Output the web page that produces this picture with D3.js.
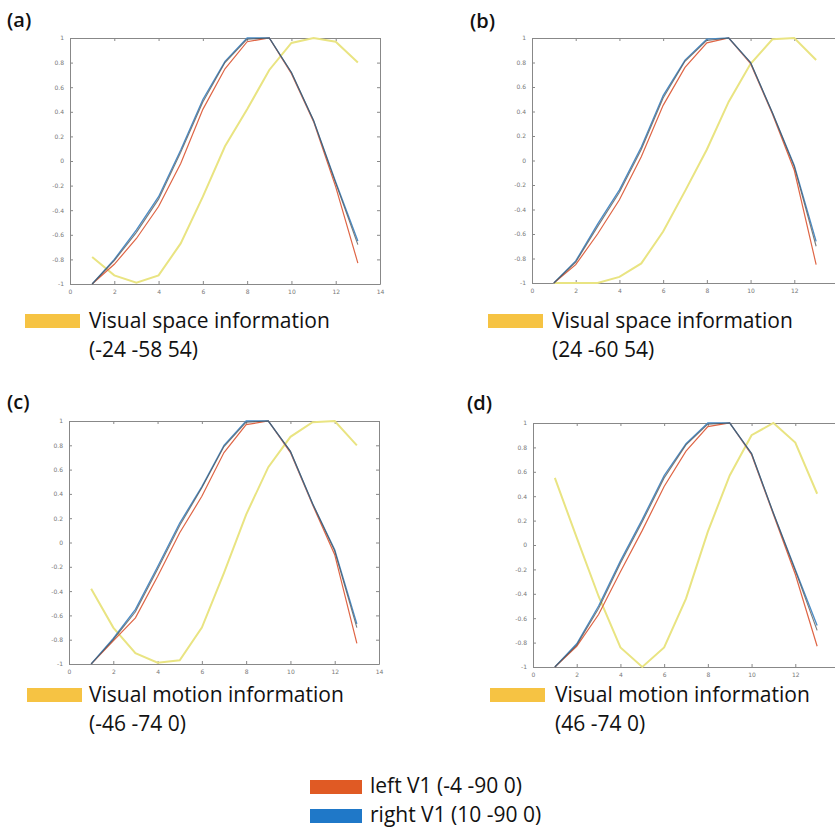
<!DOCTYPE html>
<html>
<head>
<meta charset="utf-8">
<script src="https://cdn.jsdelivr.net/npm/d3@7"></script>
<style>
  body { margin: 0; background: #fff; }
  svg { display: block; }
  .tick text { font-family: "DejaVu Sans", sans-serif; font-size: 6px; fill: #777; }
  .tick line, .domain { stroke: #888; }
  .lbl { font-family: "Open Sans", Lato, sans-serif; fill: #111; }
</style>
</head>
<body>
<svg id="chart" width="835" height="836"></svg>
<script>
// x positions (time points) shared by all panels
var xValues = [1, 2, 3, 4, 5, 6, 7, 8, 9, 10, 11, 12, 13];
var xTicks = [0, 2, 4, 6, 8, 10, 12, 14];
var yTicks = [-1, -0.8, -0.6, -0.4, -0.2, 0, 0.2, 0.4, 0.6, 0.8, 1];

// (a)
var blueA   = [-1, -0.80, -0.56, -0.29, 0.09, 0.50, 0.81, 1.0, 1.0, 0.72, 0.33, -0.17, -0.65];
var darkA   = [-1, -0.81, -0.58, -0.31, 0.07, 0.48, 0.80, 0.99, 1.0, 0.72, 0.33, -0.18, -0.68];
var redA    = [-1, -0.84, -0.63, -0.37, -0.02, 0.42, 0.75, 0.97, 1.0, 0.71, 0.32, -0.21, -0.83];
var yellowA = [-0.78, -0.93, -0.99, -0.93, -0.67, -0.29, 0.12, 0.42, 0.74, 0.96, 1.0, 0.97, 0.80];
// (b)
var blueB   = [-1, -0.82, -0.52, -0.24, 0.11, 0.53, 0.82, 0.99, 1.0, 0.80, 0.39, -0.04, -0.66];
var darkB   = [-1, -0.83, -0.54, -0.26, 0.09, 0.51, 0.81, 0.98, 1.0, 0.80, 0.39, -0.05, -0.70];
var redB    = [-1, -0.85, -0.60, -0.32, 0.03, 0.45, 0.76, 0.96, 1.0, 0.79, 0.38, -0.08, -0.85];
var yellowB = [-1, -1, -1, -0.95, -0.84, -0.58, -0.25, 0.09, 0.48, 0.79, 0.99, 1.0, 0.82];
// (c)
var blueC   = [-1, -0.79, -0.55, -0.20, 0.16, 0.46, 0.80, 1.0, 1.0, 0.75, 0.32, -0.06, -0.67];
var darkC   = [-1, -0.80, -0.57, -0.22, 0.14, 0.45, 0.79, 0.99, 1.0, 0.75, 0.32, -0.07, -0.70];
var redC    = [-1, -0.81, -0.62, -0.28, 0.08, 0.38, 0.74, 0.97, 1.0, 0.74, 0.31, -0.10, -0.83];
var yellowC = [-0.38, -0.70, -0.91, -0.99, -0.97, -0.70, -0.25, 0.23, 0.62, 0.87, 0.99, 1.0, 0.80];
// (d)
var blueD   = [-1, -0.81, -0.50, -0.13, 0.21, 0.57, 0.83, 1.0, 1.0, 0.75, 0.26, -0.20, -0.66];
var darkD   = [-1, -0.82, -0.52, -0.15, 0.19, 0.55, 0.82, 0.99, 1.0, 0.75, 0.26, -0.21, -0.70];
var redD    = [-1, -0.83, -0.57, -0.22, 0.12, 0.48, 0.77, 0.97, 1.0, 0.74, 0.25, -0.24, -0.83];
var yellowD = [0.55, 0.06, -0.42, -0.84, -1.0, -0.84, -0.44, 0.11, 0.57, 0.90, 1.0, 0.84, 0.42];

var panelNames = ['(a)', '(b)', '(c)', '(d)'];
var legendLine1 = ['Visual space information', 'Visual space information', 'Visual motion information', 'Visual motion information'];
var legendLine2 = ['(-24 -58 54)', '(24 -60 54)', '(-46 -74 0)', '(46 -74 0)'];
var keyLabels = ['left V1 (-4 -90 0)', 'right V1 (10 -90 0)'];

var series = [
  {blue: blueA, dark: darkA, red: redA, yellow: yellowA},
  {blue: blueB, dark: darkB, red: redB, yellow: yellowB},
  {blue: blueC, dark: darkC, red: redC, yellow: yellowC},
  {blue: blueD, dark: darkD, red: redD, yellow: yellowD}
];

// layout of the four panels
var boxes = [
  {x: 70,  y: 38,  w: 310, h: 246, lx: 7,   ly: 27,  sx: 25,  tx: 89,  by: 328},
  {x: 532, y: 38,  w: 306, h: 245, lx: 470, ly: 28,  sx: 488, tx: 552, by: 328},
  {x: 69,  y: 421, w: 310, h: 243, lx: 7,   ly: 409, sx: 27,  tx: 89,  by: 702},
  {x: 533, y: 423, w: 306, h: 244, lx: 467, ly: 410, sx: 490, tx: 555, by: 702}
];

var colors = {blue: '#4a8cc6', dark: '#4d4d4d', red: '#df6545', yellow: '#e9e482'};
var svgWidth = 835;

var svg = d3.select('#chart');

boxes.forEach(function(b, k) {
  var g = svg.append('g').attr('transform', 'translate(' + b.x + ',' + b.y + ')');

  var x = d3.scaleLinear().domain([0, 14]).range([0, b.w]);
  var y = d3.scaleLinear().domain([-1, 1]).range([b.h, 0]);
  var fmt = function(d) { return String(+d.toFixed(1)); };
  // labels that would fall past the page edge are not shown (the figure is cropped there)
  var shownX = xTicks.filter(function(t) { return b.x + x(t) < svgWidth - 3; });

  g.append('g')
    .attr('transform', 'translate(0,' + b.h + ')')
    .call(d3.axisBottom(x).tickValues(shownX).tickSize(-3).tickSizeOuter(0).tickPadding(6).tickFormat(fmt));
  g.append('g')
    .call(d3.axisLeft(y).tickValues(yTicks).tickSize(-3).tickSizeOuter(0).tickPadding(6).tickFormat(fmt));
  g.append('g')
    .call(d3.axisTop(x).tickValues(xTicks).tickSize(-3).tickSizeOuter(0).tickFormat(''));
  g.append('g')
    .attr('transform', 'translate(' + b.w + ',0)')
    .call(d3.axisRight(y).tickValues(yTicks).tickSize(-3).tickSizeOuter(0).tickFormat(''));

  var line = d3.line()
    .x(function(d, i) { return x(xValues[i]); })
    .y(function(d) { return y(d); });

  var s = series[k];
  g.append('path').attr('d', line(s.yellow))
    .attr('fill', 'none').attr('stroke', colors.yellow).attr('stroke-width', 2);
  g.append('path').attr('d', line(s.red))
    .attr('fill', 'none').attr('stroke', colors.red).attr('stroke-width', 1.2);
  g.append('path').attr('d', line(s.blue))
    .attr('fill', 'none').attr('stroke', colors.blue).attr('stroke-width', 1.3);
  g.append('path').attr('d', line(s.dark))
    .attr('fill', 'none').attr('stroke', colors.dark).attr('stroke-width', 1.1).attr('stroke-opacity', 0.75);

  // panel letter
  svg.append('text').attr('class', 'lbl')
    .attr('x', b.lx).attr('y', b.ly)
    .style('font-size', '20px')
    .style('font-weight', 600)
    .text(panelNames[k]);

  // yellow legend under each panel
  svg.append('rect')
    .attr('x', b.sx).attr('y', b.by - 14)
    .attr('width', 55).attr('height', 14)
    .attr('fill', '#f6c343');
  svg.append('text').attr('class', 'lbl')
    .attr('x', b.tx).attr('y', b.by)
    .style('font-size', '21px')
    .text(legendLine1[k]);
  svg.append('text').attr('class', 'lbl')
    .attr('x', b.tx).attr('y', b.by + 29)
    .style('font-size', '21px')
    .text(legendLine2[k]);
});

// bottom key
var keyColors = ['#e05a24', '#1f78c8'];
keyLabels.forEach(function(t, i) {
  var yy = 793 + i * 29;
  svg.append('rect')
    .attr('x', 310).attr('y', yy - 13)
    .attr('width', 52).attr('height', 14)
    .attr('fill', keyColors[i]);
  svg.append('text').attr('class', 'lbl')
    .attr('x', 370).attr('y', yy)
    .style('font-size', '21px')
    .text(t);
});
</script>
</body>
</html>
